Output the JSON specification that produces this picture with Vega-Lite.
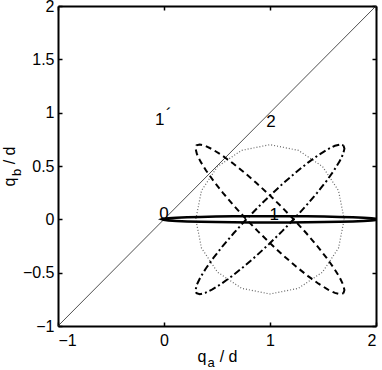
{
  "$schema": "https://vega.github.io/schema/vega-lite/v6.json",
  "autosize": {"type": "none"},
  "padding": {"left": 58, "top": 6, "right": 6, "bottom": 44},
  "width": 318,
  "height": 320,
  "background": "white",
  "config": {
    "view": {"stroke": null},
    "axis": {
      "grid": false,
      "domainColor": "black",
      "domainWidth": 2,
      "tickColor": "black",
      "tickWidth": 1.5,
      "tickSize": -4,
      "labelFont": "Liberation Sans",
      "labelFontSize": 16,
      "labelColor": "black",
      "titleFont": "Liberation Sans",
      "titleFontSize": 16,
      "titleFontWeight": "normal",
      "titleColor": "black"
    }
  },
  "datasets": {
    "curves": [
      {"c":"s","i":0,"x":2.02,"y":0},{"c":"s","i":1,"x":2.0045,"y":0.0052},{"c":"s","i":2,"x":1.9585,"y":0.0103},{"c":"s","i":3,"x":1.8833,"y":0.015},{"c":"s","i":4,"x":1.7813,"y":0.0193},{"c":"s","i":5,"x":1.6557,"y":0.023},{"c":"s","i":6,"x":1.51,"y":0.026},{"c":"s","i":7,"x":1.3488,"y":0.0282},{"c":"s","i":8,"x":1.1771,"y":0.0295},{"c":"s","i":9,"x":1.0,"y":0.03},{"c":"s","i":10,"x":0.8229,"y":0.0295},{"c":"s","i":11,"x":0.6512,"y":0.0282},{"c":"s","i":12,"x":0.49,"y":0.026},{"c":"s","i":13,"x":0.3443,"y":0.023},{"c":"s","i":14,"x":0.2187,"y":0.0193},{"c":"s","i":15,"x":0.1167,"y":0.015},{"c":"s","i":16,"x":0.0415,"y":0.0103},{"c":"s","i":17,"x":-0.0045,"y":0.0052},{"c":"s","i":18,"x":-0.02,"y":0},{"c":"s","i":19,"x":-0.0045,"y":-0.0052},{"c":"s","i":20,"x":0.0415,"y":-0.0103},{"c":"s","i":21,"x":0.1167,"y":-0.015},{"c":"s","i":22,"x":0.2187,"y":-0.0193},{"c":"s","i":23,"x":0.3443,"y":-0.023},{"c":"s","i":24,"x":0.49,"y":-0.026},{"c":"s","i":25,"x":0.6512,"y":-0.0282},{"c":"s","i":26,"x":0.8229,"y":-0.0295},{"c":"s","i":27,"x":1.0,"y":-0.03},{"c":"s","i":28,"x":1.1771,"y":-0.0295},{"c":"s","i":29,"x":1.3488,"y":-0.0282},{"c":"s","i":30,"x":1.51,"y":-0.026},{"c":"s","i":31,"x":1.6557,"y":-0.023},{"c":"s","i":32,"x":1.7813,"y":-0.0193},{"c":"s","i":33,"x":1.8833,"y":-0.015},{"c":"s","i":34,"x":1.9585,"y":-0.0103},{"c":"s","i":35,"x":2.0045,"y":-0.0052},{"c":"s","i":36,"x":2.02,"y":0},

      {"c":"o","i":0,"x":1.7,"y":0},{"c":"o","i":1,"x":1.6467,"y":0.2679},{"c":"o","i":2,"x":1.495,"y":0.495},{"c":"o","i":3,"x":1.2679,"y":0.6467},{"c":"o","i":4,"x":1.0,"y":0.7},{"c":"o","i":5,"x":0.7321,"y":0.6467},{"c":"o","i":6,"x":0.505,"y":0.495},{"c":"o","i":7,"x":0.3533,"y":0.2679},{"c":"o","i":8,"x":0.3,"y":0},{"c":"o","i":9,"x":0.3533,"y":-0.2679},{"c":"o","i":10,"x":0.505,"y":-0.495},{"c":"o","i":11,"x":0.7321,"y":-0.6467},{"c":"o","i":12,"x":1.0,"y":-0.7},{"c":"o","i":13,"x":1.2679,"y":-0.6467},{"c":"o","i":14,"x":1.495,"y":-0.495},{"c":"o","i":15,"x":1.6467,"y":-0.2679},{"c":"o","i":16,"x":1.7,"y":0},

      {"c":"d","i":0,"x":1.693,"y":-0.693},{"c":"d","i":1,"x":1.7021,"y":-0.6629},{"c":"d","i":2,"x":1.6899,"y":-0.6125},{"c":"d","i":3,"x":1.6567,"y":-0.5435},{"c":"d","i":4,"x":1.6035,"y":-0.4581},{"c":"d","i":5,"x":1.5321,"y":-0.3589},{"c":"d","i":6,"x":1.4444,"y":-0.2486},{"c":"d","i":7,"x":1.3433,"y":-0.1307},{"c":"d","i":8,"x":1.2317,"y":-0.0089},{"c":"d","i":9,"x":1.1131,"y":0.1131},{"c":"d","i":10,"x":0.9911,"y":0.2317},{"c":"d","i":11,"x":0.8693,"y":0.3433},{"c":"d","i":12,"x":0.7514,"y":0.4444},{"c":"d","i":13,"x":0.6411,"y":0.5321},{"c":"d","i":14,"x":0.5419,"y":0.6035},{"c":"d","i":15,"x":0.4565,"y":0.6567},{"c":"d","i":16,"x":0.3875,"y":0.6899},{"c":"d","i":17,"x":0.3371,"y":0.7021},{"c":"d","i":18,"x":0.307,"y":0.693},{"c":"d","i":19,"x":0.2979,"y":0.6629},{"c":"d","i":20,"x":0.3101,"y":0.6125},{"c":"d","i":21,"x":0.3433,"y":0.5435},{"c":"d","i":22,"x":0.3965,"y":0.4581},{"c":"d","i":23,"x":0.4679,"y":0.3589},{"c":"d","i":24,"x":0.5556,"y":0.2486},{"c":"d","i":25,"x":0.6567,"y":0.1307},{"c":"d","i":26,"x":0.7683,"y":0.0089},{"c":"d","i":27,"x":0.8869,"y":-0.1131},{"c":"d","i":28,"x":1.0089,"y":-0.2317},{"c":"d","i":29,"x":1.1307,"y":-0.3433},{"c":"d","i":30,"x":1.2486,"y":-0.4444},{"c":"d","i":31,"x":1.3589,"y":-0.5321},{"c":"d","i":32,"x":1.4581,"y":-0.6035},{"c":"d","i":33,"x":1.5435,"y":-0.6567},{"c":"d","i":34,"x":1.6125,"y":-0.6899},{"c":"d","i":35,"x":1.6629,"y":-0.7021},{"c":"d","i":36,"x":1.693,"y":-0.693},

      {"c":"dd","i":0,"x":1.693,"y":0.693},{"c":"dd","i":1,"x":1.7021,"y":0.6629},{"c":"dd","i":2,"x":1.6899,"y":0.6125},{"c":"dd","i":3,"x":1.6567,"y":0.5435},{"c":"dd","i":4,"x":1.6035,"y":0.4581},{"c":"dd","i":5,"x":1.5321,"y":0.3589},{"c":"dd","i":6,"x":1.4444,"y":0.2486},{"c":"dd","i":7,"x":1.3433,"y":0.1307},{"c":"dd","i":8,"x":1.2317,"y":0.0089},{"c":"dd","i":9,"x":1.1131,"y":-0.1131},{"c":"dd","i":10,"x":0.9911,"y":-0.2317},{"c":"dd","i":11,"x":0.8693,"y":-0.3433},{"c":"dd","i":12,"x":0.7514,"y":-0.4444},{"c":"dd","i":13,"x":0.6411,"y":-0.5321},{"c":"dd","i":14,"x":0.5419,"y":-0.6035},{"c":"dd","i":15,"x":0.4565,"y":-0.6567},{"c":"dd","i":16,"x":0.3875,"y":-0.6899},{"c":"dd","i":17,"x":0.3371,"y":-0.7021},{"c":"dd","i":18,"x":0.307,"y":-0.693},{"c":"dd","i":19,"x":0.2979,"y":-0.6629},{"c":"dd","i":20,"x":0.3101,"y":-0.6125},{"c":"dd","i":21,"x":0.3433,"y":-0.5435},{"c":"dd","i":22,"x":0.3965,"y":-0.4581},{"c":"dd","i":23,"x":0.4679,"y":-0.3589},{"c":"dd","i":24,"x":0.5556,"y":-0.2486},{"c":"dd","i":25,"x":0.6567,"y":-0.1307},{"c":"dd","i":26,"x":0.7683,"y":-0.0089},{"c":"dd","i":27,"x":0.8869,"y":0.1131},{"c":"dd","i":28,"x":1.0089,"y":0.2317},{"c":"dd","i":29,"x":1.1307,"y":0.3433},{"c":"dd","i":30,"x":1.2486,"y":0.4444},{"c":"dd","i":31,"x":1.3589,"y":0.5321},{"c":"dd","i":32,"x":1.4581,"y":0.6035},{"c":"dd","i":33,"x":1.5435,"y":0.6567},{"c":"dd","i":34,"x":1.6125,"y":0.6899},{"c":"dd","i":35,"x":1.6629,"y":0.7021},{"c":"dd","i":36,"x":1.693,"y":0.693}
    ],
    "diag": [{"x": -1, "y": -1}, {"x": 2, "y": 2}],
    "labels": [
      {"t": "0", "x": 0.0, "y": 0.0},
      {"t": "1", "x": 1.04, "y": -0.01},
      {"t": "2", "x": 1.01, "y": 0.87},
      {"t": "1", "x": -0.04, "y": 0.884},
      {"t": "´", "x": 0.045, "y": 0.93}
    ],
    "subs": [{"s": "a"}]
  },
  "resolve": {"axis": {"x": "independent", "y": "independent"}},
  "layer": [
    {
      "data": {"name": "diag"},
      "mark": {"type": "line", "color": "#222222", "strokeWidth": 0.8},
      "encoding": {
        "x": {"field": "x", "type": "quantitative", "scale": {"domain": [-1, 2], "nice": false, "zero": false},
              "axis": {"orient": "bottom", "values": [-1, 0, 1, 2], "format": "~g", "labelPadding": 10, "title": "q\u00a0\u00a0 / d", "titlePadding": 0}},
        "y": {"field": "y", "type": "quantitative", "scale": {"domain": [-1, 2], "nice": false, "zero": false},
              "axis": {"orient": "left", "values": [-1, -0.5, 0, 0.5, 1, 1.5, 2], "format": "~g", "labelPadding": 8, "title": "q\u00a0\u00a0 / d", "titlePadding": 5}}
      }
    },
    {
      "data": {"name": "curves"},
      "transform": [{"filter": "datum.c === 'o'"}],
      "mark": {"type": "line", "color": "#666666", "strokeWidth": 1.2, "strokeDash": [1, 2], "clip": true},
      "encoding": {
        "x": {"field": "x", "type": "quantitative", "axis": {"orient": "top", "values": [-1, 0, 1, 2], "labels": false, "title": null}},
        "y": {"field": "y", "type": "quantitative", "axis": {"orient": "right", "values": [-1, -0.5, 0, 0.5, 1, 1.5, 2], "labels": false, "title": null}},
        "order": {"field": "i", "type": "quantitative"}
      }
    },
    {
      "data": {"name": "curves"},
      "transform": [{"filter": "datum.c === 'd'"}],
      "mark": {"type": "line", "color": "black", "strokeWidth": 2, "strokeDash": [6, 4], "clip": true},
      "encoding": {
        "x": {"field": "x", "type": "quantitative", "axis": null},
        "y": {"field": "y", "type": "quantitative", "axis": null},
        "order": {"field": "i", "type": "quantitative"}
      }
    },
    {
      "data": {"name": "curves"},
      "transform": [{"filter": "datum.c === 'dd'"}],
      "mark": {"type": "line", "color": "black", "strokeWidth": 2, "strokeDash": [7, 3, 2, 3], "clip": true},
      "encoding": {
        "x": {"field": "x", "type": "quantitative", "axis": null},
        "y": {"field": "y", "type": "quantitative", "axis": null},
        "order": {"field": "i", "type": "quantitative"}
      }
    },
    {
      "data": {"name": "curves"},
      "transform": [{"filter": "datum.c === 's'"}],
      "mark": {"type": "line", "color": "black", "strokeWidth": 2.5, "clip": true},
      "encoding": {
        "x": {"field": "x", "type": "quantitative", "axis": null},
        "y": {"field": "y", "type": "quantitative", "axis": null},
        "order": {"field": "i", "type": "quantitative"}
      }
    },
    {
      "data": {"name": "labels"},
      "mark": {"type": "text", "font": "Liberation Sans", "fontSize": 17, "align": "center", "baseline": "alphabetic", "color": "black"},
      "encoding": {
        "x": {"field": "x", "type": "quantitative", "axis": null},
        "y": {"field": "y", "type": "quantitative", "axis": null},
        "text": {"field": "t"}
      }
    },
    {
      "data": {"name": "subs"},
      "mark": {"type": "text", "font": "Liberation Sans", "fontSize": 13, "align": "center", "baseline": "middle", "color": "black"},
      "encoding": {
        "x": {"datum": 0.445, "type": "quantitative", "axis": null},
        "y": {"datum": -1.345, "type": "quantitative", "axis": null},
        "text": {"value": "a"}
      }
    },
    {
      "data": {"name": "subs"},
      "mark": {"type": "text", "font": "Liberation Sans", "fontSize": 13, "align": "center", "baseline": "middle", "angle": 270, "color": "black"},
      "encoding": {
        "x": {"datum": -1.39, "type": "quantitative", "axis": null},
        "y": {"datum": 0.44, "type": "quantitative", "axis": null},
        "text": {"value": "b"}
      }
    }
  ]
}
